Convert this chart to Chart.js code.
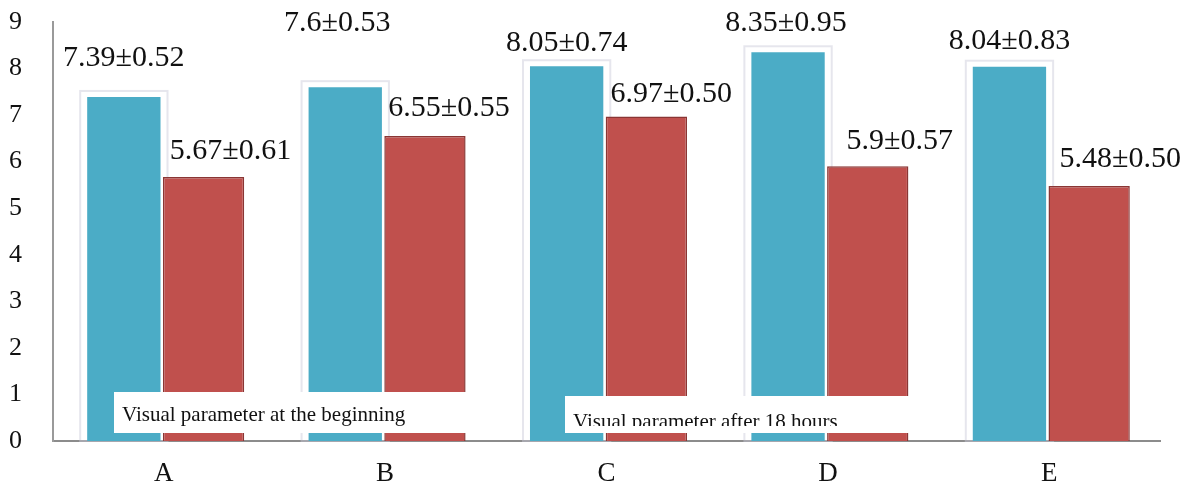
<!DOCTYPE html>
<html>
<head>
<meta charset="utf-8">
<script src="https://cdn.jsdelivr.net/npm/chart.js@4/dist/chart.umd.min.js"></script>
<style>
  html, body { margin: 0; padding: 0; background: #fff; }
  #wrap { width: 1183px; height: 486px; }
</style>
</head>
<body>
<div id="wrap"><canvas id="grafica" width="1183" height="486"></canvas></div>
<script>
// datos
const categorias = ['A', 'B', 'C', 'D', 'E'];
const inicio = [7.39, 7.6, 8.05, 8.35, 8.04];
const despues18h = [5.67, 6.55, 6.97, 5.9, 5.48];
const etiquetasInicio = ['7.39±0.52', '7.6±0.53', '8.05±0.74', '8.35±0.95', '8.04±0.83'];
const etiquetasDespues = ['5.67±0.61', '6.55±0.55', '6.97±0.50', '5.9±0.57', '5.48±0.50'];
const ticksY = [0, 1, 2, 3, 4, 5, 6, 7, 8, 9];

// desplazamiento de cada etiqueta respecto a la barra (solo estilo)
const despEtiquetas = [
  { dx: [0, -8, 0, -2, 0], dy: [39, 64, 23, 29, 26] },
  { dx: [27, 24, 25, 32, 31], dy: [26, 28, 22, 25, 27] }
];

const serif = '"Liberation Serif", "DejaVu Serif", serif';

// marco claro detras de las barras azules
const marcoBarras = {
  id: 'marcoBarras',
  beforeDatasetsDraw(chart) {
    const ctx = chart.ctx;
    const base = chart.scales.y.getPixelForValue(0);
    ctx.save();
    chart.getDatasetMeta(0).data.forEach(bar => {
      const w = bar.width;
      ctx.strokeStyle = 'rgba(200,200,215,0.45)';
      ctx.lineWidth = 2;
      ctx.strokeRect(bar.x - w / 2 - 7, bar.y - 6, w + 14, base - bar.y + 6);
    });
    ctx.restore();
  }
};

// etiquetas de valor y cajas de leyenda
const etiquetas = {
  id: 'etiquetas',
  afterDatasetsDraw(chart) {
    const ctx = chart.ctx;
    ctx.save();
    ctx.font = '30px ' + serif;
    ctx.fillStyle = '#111';
    ctx.textAlign = 'center';
    ctx.textBaseline = 'middle';
    [etiquetasInicio, etiquetasDespues].forEach((textos, d) => {
      chart.getDatasetMeta(d).data.forEach((bar, i) => {
        ctx.fillText(textos[i], bar.x + despEtiquetas[d].dx[i], bar.y - despEtiquetas[d].dy[i]);
      });
    });

    // leyendas como cajas blancas encima del grafico
    const cajas = [
      { x: 114, y: 392, w: 355, h: 41, tx: 122, ty: 421, corte: 433 },
      { x: 565, y: 396, w: 345, h: 37, tx: 573, ty: 428, corte: 426 }
    ];
    ctx.font = '21px ' + serif;
    ctx.textAlign = 'left';
    ctx.textBaseline = 'alphabetic';
    cajas.forEach((c, i) => {
      ctx.save();
      ctx.fillStyle = '#fff';
      ctx.fillRect(c.x, c.y, c.w, c.h);
      ctx.beginPath();
      ctx.rect(c.x, c.y, c.w, c.corte - c.y);
      ctx.clip();
      ctx.fillStyle = '#111';
      ctx.fillText(chart.data.datasets[i].label, c.tx, c.ty);
      ctx.restore();
    });
    ctx.restore();
  }
};

const ctx = document.getElementById('grafica').getContext('2d');
new Chart(ctx, {
  type: 'bar',
  data: {
    labels: categorias,
    datasets: [{
      label: 'Visual parameter at the beginning',
      data: inicio,
      backgroundColor: '#4BACC6',
      borderWidth: 0,
      categoryPercentage: 0.72,
      barPercentage: 0.92
    }, {
      label: 'Visual parameter after 18 hours',
      data: despues18h,
      backgroundColor: '#C0504D',
      borderColor: '#8a3634',
      borderWidth: 1.5,
      categoryPercentage: 0.72,
      barPercentage: 1.02
    }]
  },
  options: {
    responsive: false,
    animation: false,
    devicePixelRatio: 1,
    layout: { padding: { top: 22, right: 23, left: 9, bottom: 0 } },
    plugins: {
      legend: { display: false },
      tooltip: { enabled: false }
    },
    scales: {
      x: {
        grid: { display: false, drawTicks: false },
        border: { color: '#8c8c8c', width: 2 },
        ticks: { color: '#111', font: { family: serif, size: 27 }, padding: 17 },
        afterFit(scale) { scale.height = 45; }
      },
      y: {
        min: 0,
        max: 9,
        afterBuildTicks(scale) { scale.ticks = ticksY.map(v => ({ value: v })); },
        grid: { display: false, drawTicks: false },
        border: { color: '#9a9a9a', width: 2 },
        ticks: { color: '#111', font: { family: serif, size: 26 }, padding: 0, crossAlign: 'far' },
        afterFit(scale) { scale.width = 44; }
      }
    }
  },
  plugins: [marcoBarras, etiquetas]
});
</script>
</body>
</html>
